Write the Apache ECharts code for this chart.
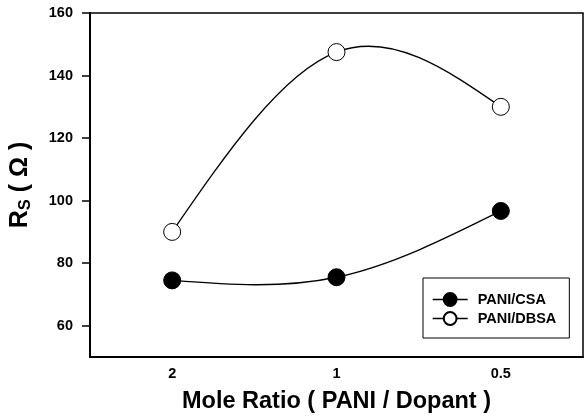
<!DOCTYPE html>
<html>
<head>
<meta charset="utf-8">
<script src="https://cdn.jsdelivr.net/npm/echarts@6/dist/echarts.min.js"></script>
<style>
  html, body { margin: 0; padding: 0; background: #fff; }
  #chart { width: 585px; height: 419px; }
</style>
</head>
<body>
<div id="chart"></div>
<script>
// Sheet resistance of doped PANI films versus mole ratio
const ratioLabels = ['2', '1', '0.5'];
const csaValues = [74.5, 75.5, 96.7];
const dbsaValues = [90, 147.5, 130];
const yTickValues = [60, 80, 100, 120, 140, 160];

const FONT = '"Liberation Sans", Arial, Helvetica, sans-serif';

// Slopes (per category step) of a natural cubic spline through equally spaced values
function naturalSlopes(v) {
  const n = v.length;
  if (n < 3) {
    const s = n === 2 ? v[1] - v[0] : 0;
    return v.map(() => s);
  }
  // solve tridiagonal system for second derivatives, M0 = Mn-1 = 0
  const a = [], b = [], c = [], d = [];
  for (let i = 1; i < n - 1; i++) {
    a.push(1); b.push(4); c.push(1);
    d.push(6 * (v[i - 1] - 2 * v[i] + v[i + 1]));
  }
  const m = d.length;
  for (let i = 1; i < m; i++) {
    const w = a[i] / b[i - 1];
    b[i] -= w * c[i - 1];
    d[i] -= w * d[i - 1];
  }
  const inner = new Array(m);
  inner[m - 1] = d[m - 1] / b[m - 1];
  for (let i = m - 2; i >= 0; i--) inner[i] = (d[i] - c[i] * inner[i + 1]) / b[i];
  const M = [0, ...inner, 0];
  const slopes = [];
  for (let i = 0; i < n - 1; i++) {
    slopes.push(v[i + 1] - v[i] - (2 * M[i] + M[i + 1]) / 6);
  }
  slopes.push(v[n - 1] - v[n - 2] + (M[n - 2] + 2 * M[n - 1]) / 6);
  return slopes;
}

// Custom series drawing the spline curve as cubic Bezier segments in axis coordinates
function splineSeries(values) {
  const slopes = naturalSlopes(values);
  return {
    type: 'custom',
    coordinateSystem: 'cartesian2d',
    silent: true,
    z: 2,
    data: [[0, values[0]]],
    renderItem: function (params, api) {
      const pts = values.map((v, i) => api.coord([i, v]));
      const parts = ['M' + pts[0][0] + ' ' + pts[0][1]];
      for (let i = 0; i < values.length - 1; i++) {
        const x0 = pts[i][0], x1 = pts[i + 1][0];
        const c1x = x0 + (x1 - x0) / 3;
        const c2x = x1 - (x1 - x0) / 3;
        const c1y = api.coord([i, values[i] + slopes[i] / 3])[1];
        const c2y = api.coord([i, values[i + 1] - slopes[i + 1] / 3])[1];
        parts.push('C' + c1x + ' ' + c1y + ' ' + c2x + ' ' + c2y + ' ' + x1 + ' ' + pts[i + 1][1]);
      }
      return {
        type: 'path',
        shape: { pathData: parts.join(' ') },
        style: { fill: null, stroke: '#000', lineWidth: 1.3 }
      };
    }
  };
}

const chart = echarts.init(document.getElementById('chart'), null, { renderer: 'canvas' });

chart.setOption({
  backgroundColor: '#ffffff',
  animation: false,
  grid: {
    left: 89, right: 2, top: 13, bottom: 61,
    show: true, borderColor: '#000', borderWidth: 1.5,
    backgroundColor: 'transparent'
  },
  legend: {
    orient: 'vertical',
    left: 423, top: 278,
    padding: [14, 13, 12, 9],
    itemGap: 4,
    itemWidth: 35,
    itemHeight: 16,
    borderColor: '#000',
    borderWidth: 1,
    lineStyle: { color: '#000', width: 1.3, opacity: 1 },
    textStyle: { fontFamily: FONT, fontWeight: 'bold', fontSize: 14.5, color: '#000', padding: [0, 0, 0, 5] },
    data: ['PANI/CSA', 'PANI/DBSA']
  },
  xAxis: {
    type: 'category',
    data: ratioLabels,
    boundaryGap: true,
    name: 'Mole Ratio ( PANI / Dopant )',
    nameLocation: 'middle',
    nameGap: 33,
    nameTextStyle: { fontFamily: FONT, fontWeight: 'bold', fontSize: 23.5, color: '#000' },
    axisLine: { lineStyle: { color: '#000', width: 2 } },
    axisTick: { inside: true, length: 6, alignWithLabel: true, lineStyle: { color: '#000', width: 1.5 } },
    axisLabel: { margin: 9, fontFamily: FONT, fontWeight: 'bold', fontSize: 14.5, color: '#000' },
    splitLine: { show: false }
  },
  yAxis: {
    type: 'value',
    min: 50, max: 160,
    name: '{a|R}{s|S}{a| ( Ω )}',
    nameLocation: 'middle',
    nameRotate: 90,
    nameGap: 56,
    nameTextStyle: {
      rich: {
        a: { fontFamily: FONT, fontWeight: 'bold', fontSize: 25, color: '#000' },
        s: { fontFamily: FONT, fontWeight: 'bold', fontSize: 16.5, color: '#000', padding: [10, 0, 0, 0] }
      }
    },
    axisLine: { show: true, lineStyle: { color: '#000', width: 2 } },
    axisTick: { show: true, inside: false, length: 8, customValues: yTickValues, lineStyle: { color: '#000', width: 1.5 } },
    axisLabel: { margin: 17, customValues: yTickValues, fontFamily: FONT, fontWeight: 'bold', fontSize: 14.5, color: '#000' },
    splitLine: { show: false }
  },
  series: [
    splineSeries(csaValues),
    splineSeries(dbsaValues),
    {
      name: 'PANI/CSA',
      type: 'line',
      data: csaValues,
      symbol: 'circle',
      symbolSize: 17,
      lineStyle: { color: '#000', width: 1.3, opacity: 0 },
      itemStyle: { color: '#000', borderColor: '#000', borderWidth: 1 },
      z: 3
    },
    {
      name: 'PANI/DBSA',
      type: 'line',
      data: dbsaValues,
      symbol: 'circle',
      symbolSize: 17,
      lineStyle: { color: '#000', width: 1.3, opacity: 0 },
      itemStyle: { color: '#fff', borderColor: '#000', borderWidth: 1 },
      z: 3
    }
  ]
});
</script>
</body>
</html>
